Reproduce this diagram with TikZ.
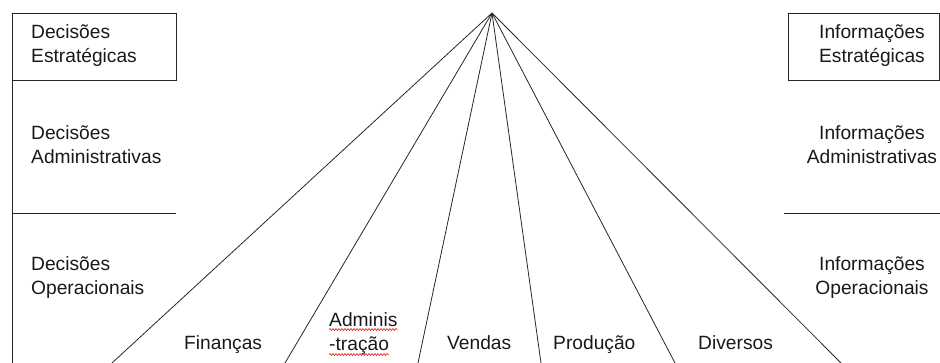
\documentclass[tikz,border=0pt]{standalone}
\usepackage{fontspec}
\setmainfont{Liberation Sans}
\usetikzlibrary{decorations.pathmorphing}
\begin{document}
\begin{tikzpicture}[x=1pt,y=-1pt,
  ln/.style={line width=0.8pt,draw=black!85},
  lbl/.style={inner sep=0pt,font=\fontsize{19.2}{24}\selectfont,text=black!90},
  wavy/.style={draw=red!85!black,line width=0.5pt,decorate,decoration={snake,segment length=3pt,amplitude=1pt}}]
\useasboundingbox (0,0) rectangle (940,363);
% left frame
\draw[ln] (12,13) rectangle (176,80);
\draw[ln] (12,80) -- (12,363);
\draw[ln] (12,213) -- (176,213);
% right frame
\draw[ln] (788,13) rectangle (939,80);
\draw[ln] (784,213) -- (940,213);
% fan
\coordinate (apex) at (492,13);
\coordinate (b1) at (112,363);
\coordinate (b2) at (285,363);
\coordinate (b3) at (418,363);
\coordinate (b4) at (541,363);
\coordinate (b5) at (675,363);
\coordinate (b6) at (841,363);
\foreach \b in {b1,b2,b3,b4,b5,b6} \draw[ln] (apex) -- (\b);
% left texts
\node[lbl,anchor=base west] (ld1) at (31,38.5) {Decisões};
\node[lbl,anchor=base west] (ld2) at (31,62.5) {Estratégicas};
\node[lbl,anchor=base west] (la1) at (31,139.5) {Decisões};
\node[lbl,anchor=base west] (la2) at (31,163.5) {Administrativas};
\node[lbl,anchor=base west] (lo1) at (31,271) {Decisões};
\node[lbl,anchor=base west] (lo2) at (31,295) {Operacionais};
% right texts
\node[lbl,anchor=base] (ri1) at (872,38.5) {Informações};
\node[lbl,anchor=base] (ri2) at (872,62.5) {Estratégicas};
\node[lbl,anchor=base] (ra1) at (872,139.5) {Informações};
\node[lbl,anchor=base] (ra2) at (872,163.5) {Administrativas};
\node[lbl,anchor=base] (ro1) at (872,271) {Informações};
\node[lbl,anchor=base] (ro2) at (872,295) {Operacionais};
% bottom labels
\node[lbl,anchor=base west] (fin) at (184,350) {Finanças};
\node[lbl,anchor=base west] (adm1) at (329,326.5) {Adminis};
\node[lbl,anchor=base west] (adm2) at (329,351) {-tração};
\node[lbl,anchor=base west] (ven) at (447,350) {Vendas};
\node[lbl,anchor=base west] (pro) at (553,350) {Produção};
\node[lbl,anchor=base west] (div) at (698,350) {Diversos};
\draw[wavy] ([yshift=-3pt]adm1.base west) -- ([yshift=-3pt]adm1.base east);
\draw[wavy] ([yshift=-3.5pt]adm2.base west) -- ([yshift=-3.5pt]adm2.base east);
\end{tikzpicture}
\end{document}
